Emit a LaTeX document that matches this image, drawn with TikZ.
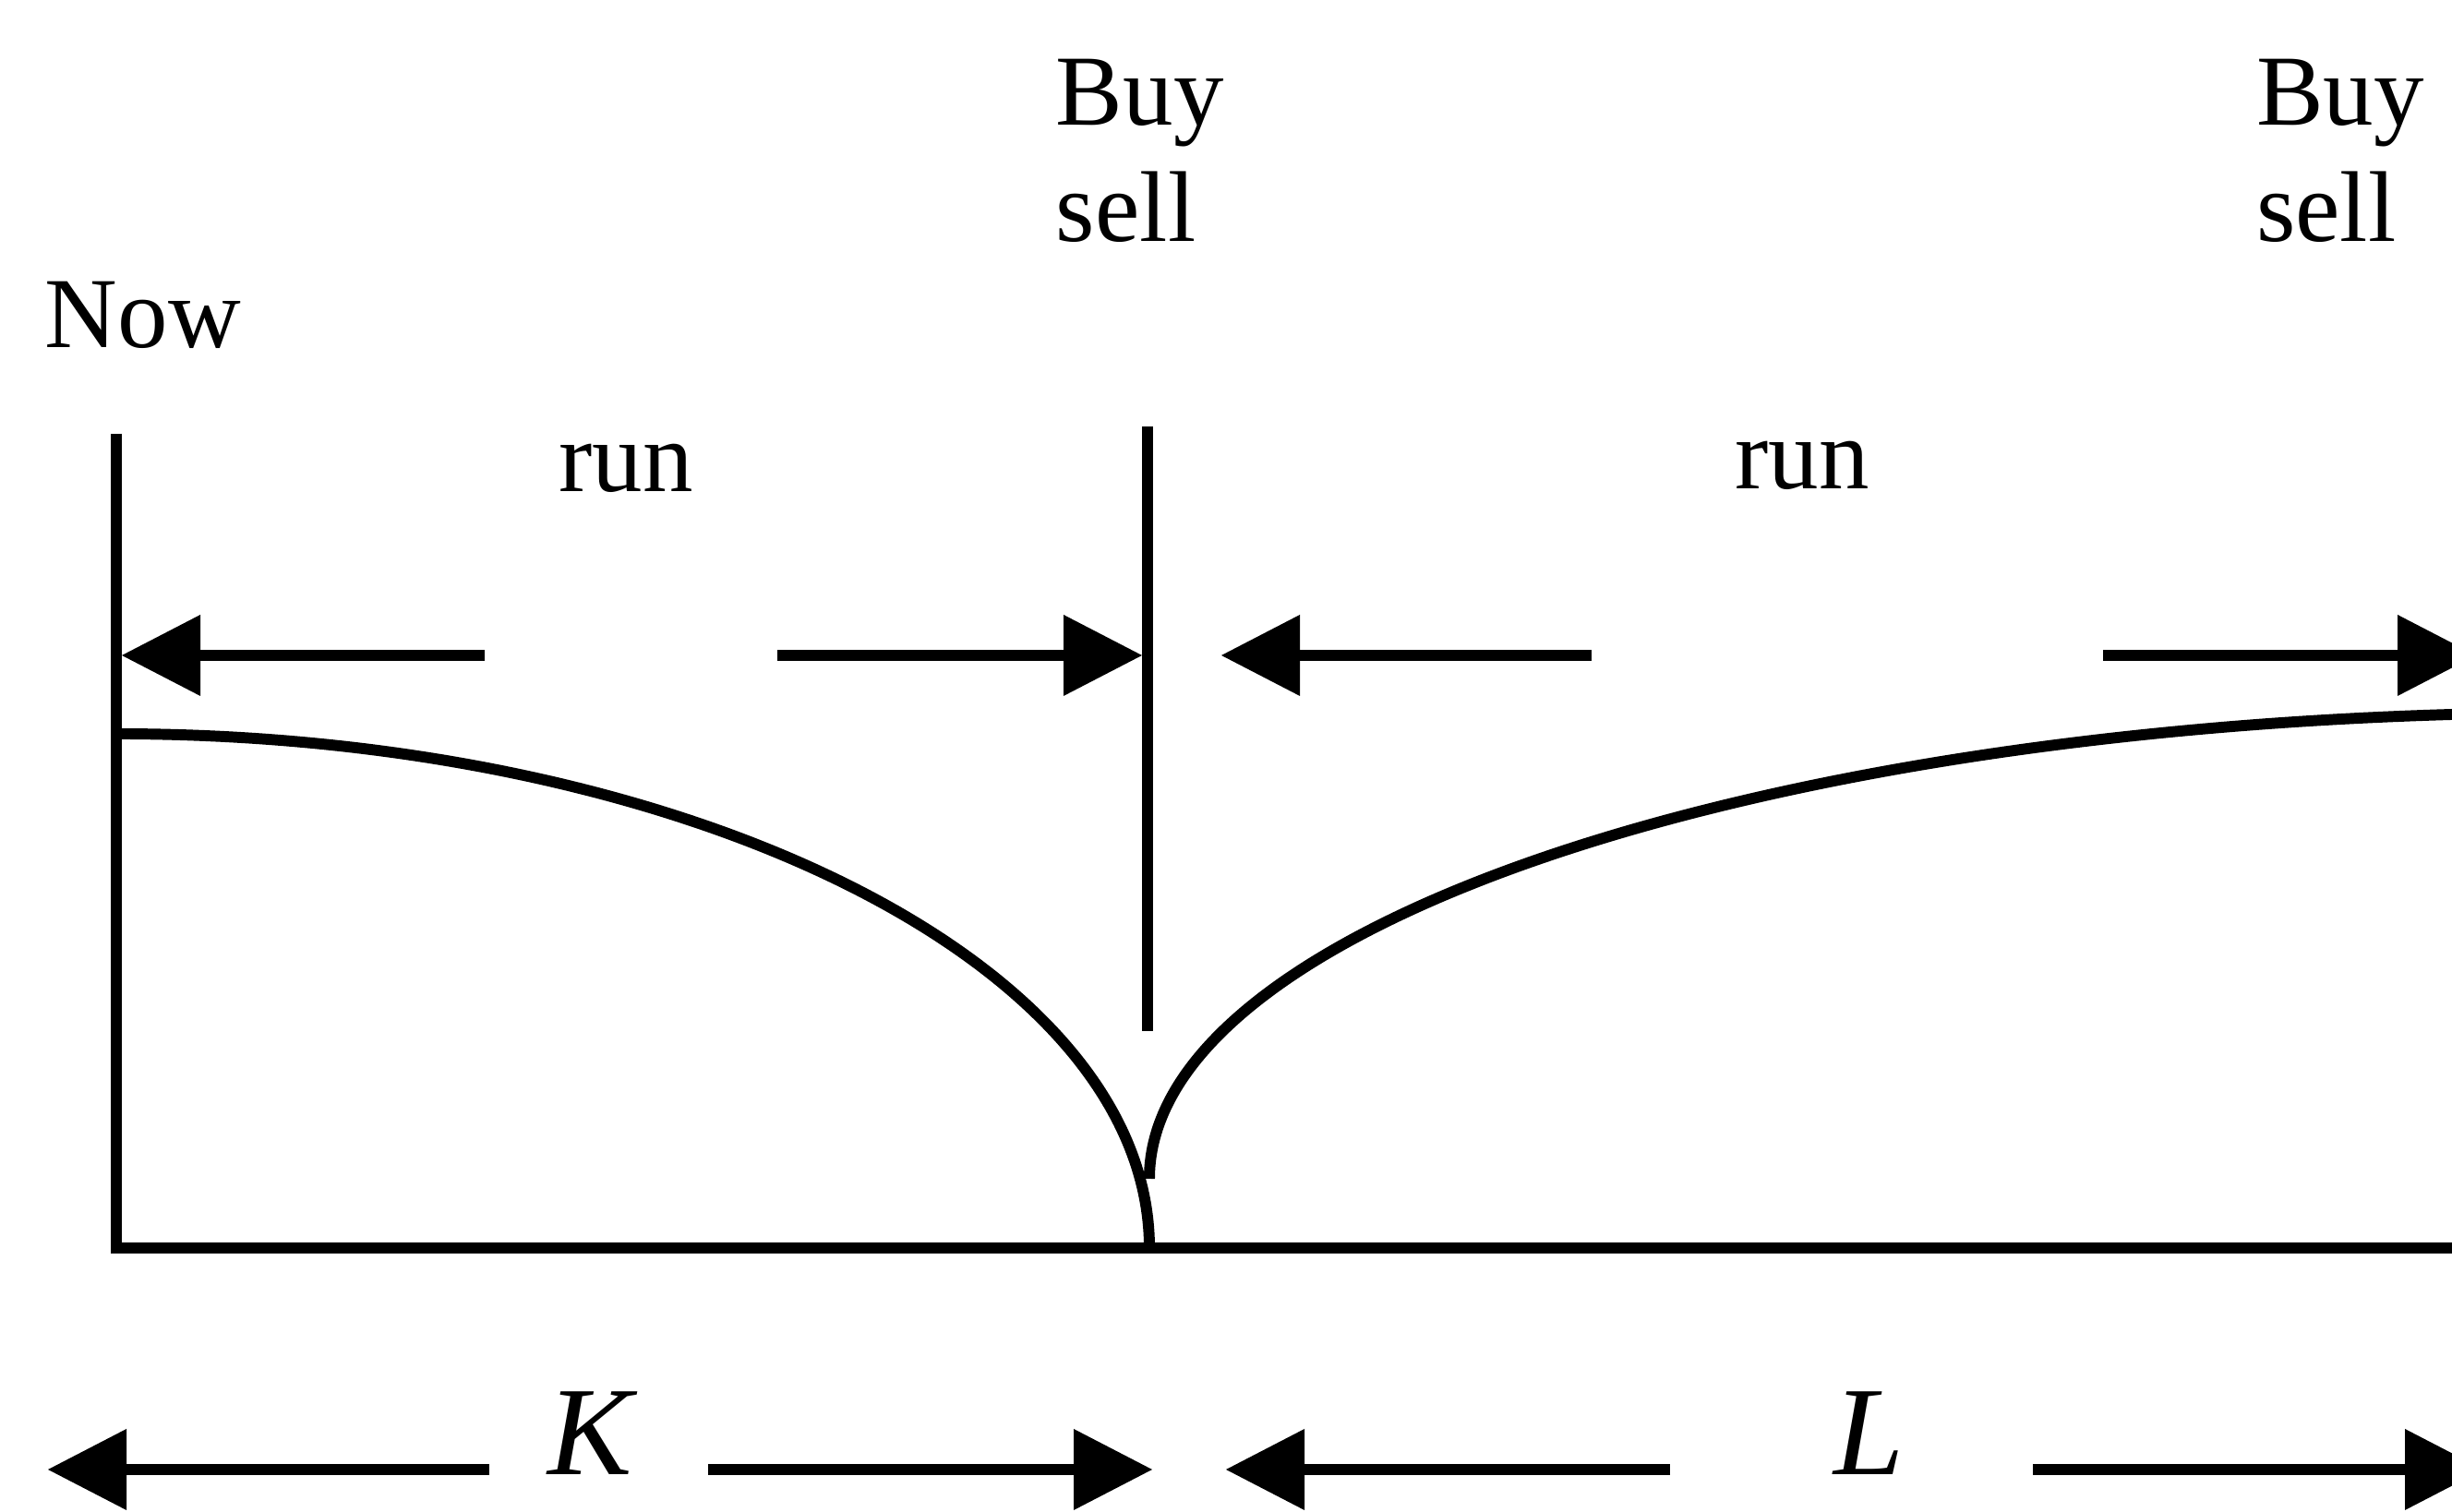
\documentclass[tikz,border=0pt]{standalone}
\usepackage{fontspec}
\setmainfont{Liberation Serif}
\usetikzlibrary{arrows.meta}

\begin{document}
\begin{tikzpicture}[
    line width=3.4pt,
    lbl/.style={inner sep=0pt, font=\fontsize{31}{36}\selectfont},
    lenlbl/.style={inner sep=0pt, font=\fontsize{39}{44}\selectfont\itshape},
    runarrow/.style={-{Triangle[length=0.85cm, width=0.88cm, line width=0pt]}}
  ]
  \useasboundingbox (0,0) rectangle (26.56,16.38);
  \clip (0,0) rectangle (26.56,16.38);

  % time axis and the decision point
  \coordinate (nowtop) at (1.26,11.68);
  \coordinate (origin) at (1.26,2.86);
  \coordinate (axisend) at (27.2,2.86);
  \coordinate (midtop) at (12.43,11.76);
  \coordinate (midbot) at (12.43,5.21);
  \draw (nowtop) -- (origin) -- (axisend);
  \draw (midtop) -- (midbot);

  % the two curves
  \coordinate (kstart) at (1.26,8.43);
  \coordinate (lstart) at (12.45,3.61);
  \draw (kstart) arc[start angle=90, end angle=0, x radius=11.19cm, y radius=5.57cm];
  \draw (lstart) arc[start angle=180, end angle=90, x radius=15.5cm, y radius=5.05cm];

  % labels
  \node[lbl, anchor=base west] (now) at (0.43,12.61) {Now};
  \node[lbl, anchor=north west, align=left] (bsmid) at (11.38,15.80) {Buy\\sell};
  \node[lbl, anchor=north west, align=left] (bsend) at (24.38,15.80) {Buy\\sell};
  \node[lbl, anchor=base] (runk) at (6.78,11.05) {run};
  \node[lbl, anchor=base] (runl) at (19.52,11.08) {run};
  \node[lenlbl, anchor=base] (k) at (6.39,0.40) {K};
  \node[lenlbl, anchor=base] (l) at (20.25,0.40) {L};

  % run arrows
  \coordinate (ra) at (5.25,9.28);  \coordinate (rat) at (1.32,9.28);
  \coordinate (rb) at (8.42,9.28);  \coordinate (rbt) at (12.37,9.28);
  \coordinate (rc) at (17.24,9.28); \coordinate (rct) at (13.23,9.28);
  \coordinate (rd) at (22.78,9.28); \coordinate (rdt) at (26.82,9.28);
  \draw[runarrow] (ra) -- (rat);
  \draw[runarrow] (rb) -- (rbt);
  \draw[runarrow] (rc) -- (rct);
  \draw[runarrow] (rd) -- (rdt);

  % length arrows
  \coordinate (ka) at (5.30,0.46);  \coordinate (kat) at (0.52,0.46);
  \coordinate (kb) at (7.67,0.46);  \coordinate (kbt) at (12.48,0.46);
  \coordinate (la) at (18.09,0.46); \coordinate (lat) at (13.28,0.46);
  \coordinate (lb) at (22.02,0.46); \coordinate (lbt) at (26.90,0.46);
  \draw[runarrow] (ka) -- (kat);
  \draw[runarrow] (kb) -- (kbt);
  \draw[runarrow] (la) -- (lat);
  \draw[runarrow] (lb) -- (lbt);
\end{tikzpicture}
\end{document}
